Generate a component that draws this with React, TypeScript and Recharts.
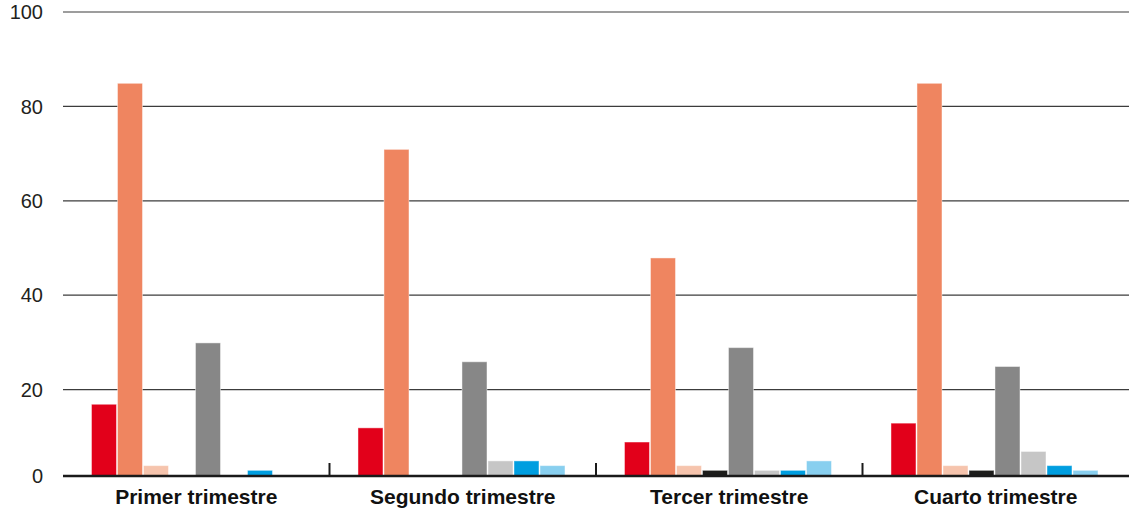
import { BarChart, Bar, XAxis, YAxis, CartesianGrid, ReferenceLine } from 'recharts';

const quarters = ['Primer trimestre', 'Segundo trimestre', 'Tercer trimestre', 'Cuarto trimestre'];

const serieRojo = [17, 12, 9, 13];
const serieNaranja = [85, 71, 48, 85];
const serieSalmon = [4, 0, 4, 4];
const serieNegro = [0, 0, 3, 3];
const serieGris = [30, 26, 29, 25];
const serieGrisClaro = [0, 5, 3, 7];
const serieAzul = [3, 5, 3, 4];
const serieAzulClaro = [0, 4, 5, 3];

const yTicks = [0, 20, 40, 60, 80, 100];

const series = [
  { key: 'rojo', values: serieRojo, color: '#e2001a' },
  { key: 'naranja', values: serieNaranja, color: '#ef8560' },
  { key: 'salmon', values: serieSalmon, color: '#f6c4ad' },
  { key: 'negro', values: serieNegro, color: '#1d1d1b' },
  { key: 'gris', values: serieGris, color: '#878787' },
  { key: 'grisClaro', values: serieGrisClaro, color: '#c6c6c6' },
  { key: 'azul', values: serieAzul, color: '#009ee0' },
  { key: 'azulClaro', values: serieAzulClaro, color: '#88cfef' },
];

const data = quarters.map((q, i) => {
  const row: Record<string, string | number> = { quarter: q };
  series.forEach((s) => {
    row[s.key] = s.values[i];
  });
  return row;
});

// layout
const WIDTH = 1131;
const HEIGHT = 511;
const TOP = 12;
const Y_AXIS_W = 63;
const X_AXIS_H = 27;
const RIGHT = 2;
const PLOT_BOTTOM = HEIGHT - X_AXIS_H;
const PLOT_H = PLOT_BOTTOM - TOP;
const BAND = (WIDTH - Y_AXIS_W - RIGHT) / quarters.length;
// the printed axis sits a little above the true zero
const BASELINE = 1.7;
const BASE_PX = PLOT_BOTTOM - (BASELINE * PLOT_H) / 100;

const FONT = '"Liberation Sans", Arial, Helvetica, sans-serif';

function YTick(props: any) {
  const { x, y, payload } = props;
  const yy = payload.value === 0 ? BASE_PX : y;
  return (
    <text x={x} y={yy} dy="0.36em" textAnchor="end" fontSize={20} fill="#231f20" fontFamily={FONT}>
      {payload.value}
    </text>
  );
}

function XTick(props: any) {
  const { x, index, payload } = props;
  return (
    <g>
      {index > 0 && (
        <line x1={x - BAND / 2} x2={x - BAND / 2} y1={BASE_PX} y2={BASE_PX - 13} stroke="#1a1a1a" strokeWidth={2} />
      )}
      <text x={x} y={PLOT_BOTTOM + 20} textAnchor="middle" fontSize={21} fontWeight="bold" fill="#111" fontFamily={FONT}>
        {payload.value}
      </text>
    </g>
  );
}

// bars are cut off at the printed axis line
function ClippedBar(props: any) {
  const { x, y, width, height, fill } = props;
  const bottom = Math.min(y + height, BASE_PX);
  const h = bottom - y;
  if (!(h > 0)) return null;
  return (
    <rect
      x={x + 0.5}
      y={y + 0.5}
      width={Math.max(width - 1, 0)}
      height={h - 0.5}
      fill={fill}
      stroke="rgba(255,255,255,0.45)"
      strokeWidth={1}
    />
  );
}

export default function App() {
  return (
    <div>
      <style>{'body{margin:0}'}</style>
      <BarChart
        width={WIDTH}
        height={HEIGHT}
        data={data}
        margin={{ top: TOP, right: RIGHT, left: 0, bottom: 0 }}
        barCategoryGap="10.5%"
        barGap={0}
      >
        <CartesianGrid vertical={false} horizontalValues={[20, 40, 60, 80, 100]} stroke="#3c3c3c" strokeWidth={1.2} />
        <XAxis
          dataKey="quarter"
          height={X_AXIS_H}
          axisLine={false}
          tickLine={false}
          tick={<XTick />}
          interval={0}
        />
        <YAxis
          width={Y_AXIS_W}
          domain={[0, 100]}
          ticks={yTicks}
          axisLine={false}
          tickLine={false}
          tickSize={0}
          tickMargin={20}
          tick={<YTick />}
        />
        {series.map((s) => (
          <Bar
            key={s.key}
            dataKey={s.key}
            fill={s.color}
            shape={<ClippedBar />}
            isAnimationActive={false}
          />
        ))}
        <ReferenceLine y={BASELINE} stroke="#1a1a1a" strokeWidth={2.6} />
      </BarChart>
    </div>
  );
}
